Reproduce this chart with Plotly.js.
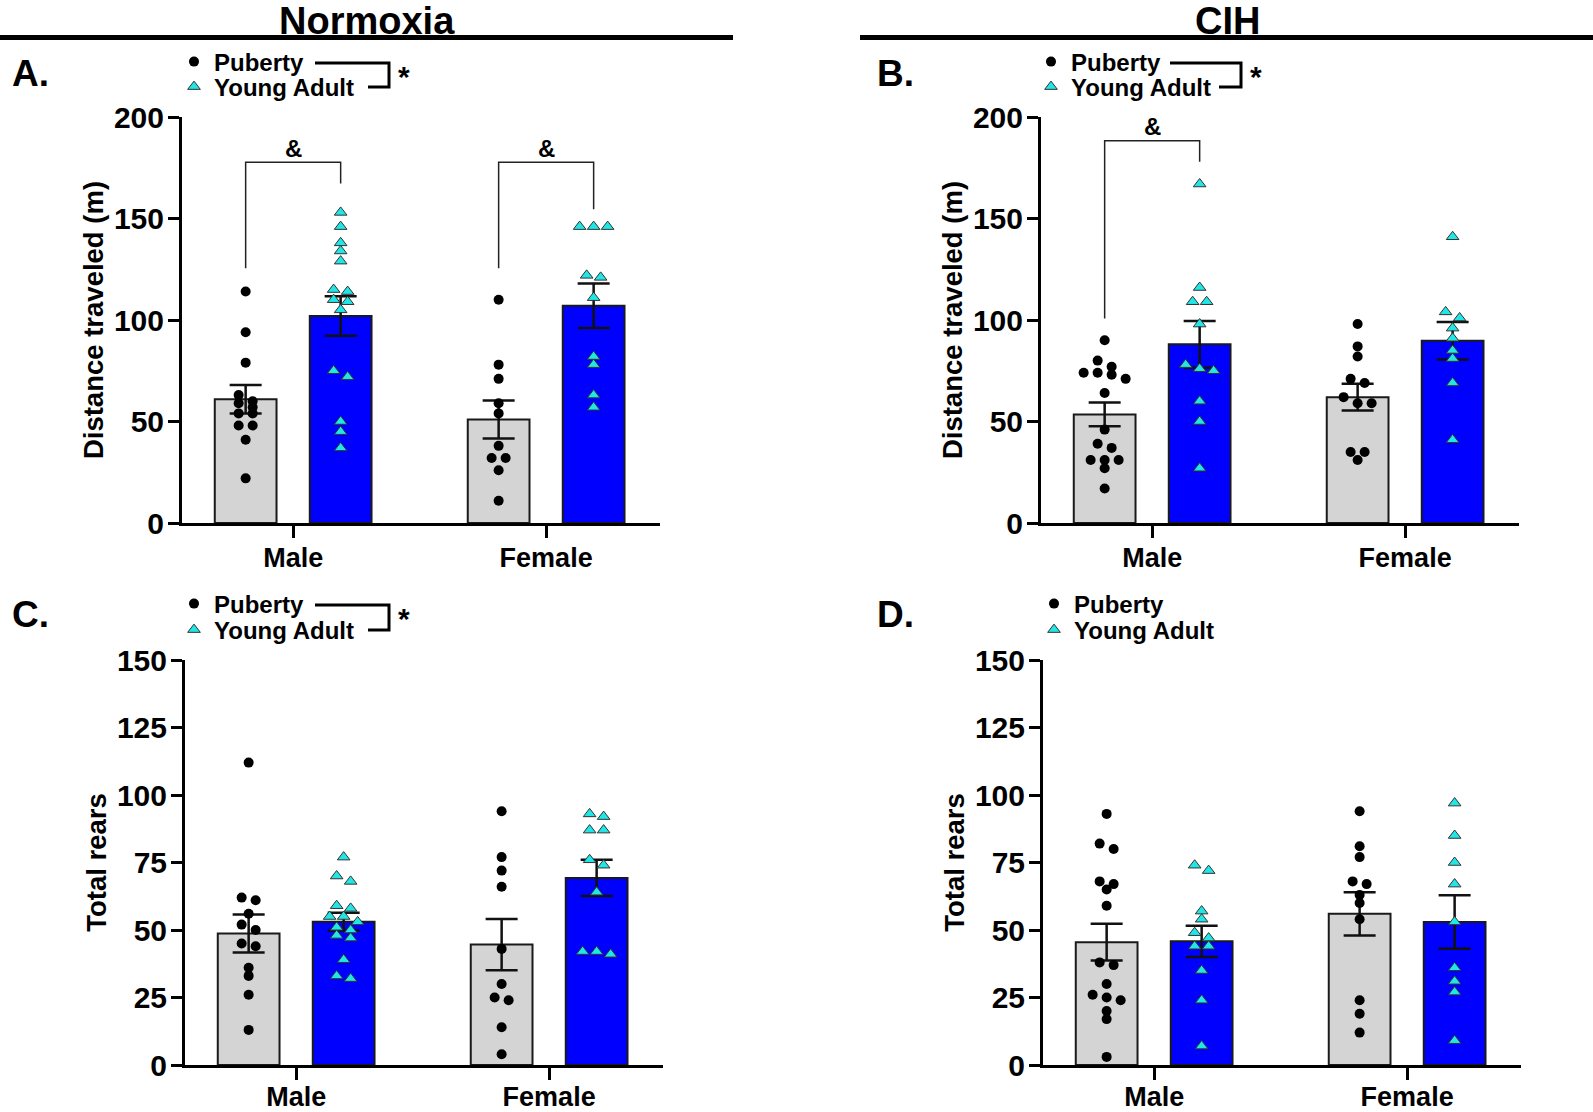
<!DOCTYPE html>
<html>
<head>
<meta charset="utf-8">
<script src="https://cdn.plot.ly/plotly-3.0.1.min.js"></script>
<style>html,body{margin:0;padding:0;background:#fff}#chart{width:1593px;height:1112px}</style>
</head>
<body>
<div id="chart"></div>
<script>
// ---------------- data ----------------
const sexes = ['Male', 'Female'];
const ages = ['Puberty', 'Young Adult'];
const headers = ['Normoxia', 'CIH'];
const panelLetters = ['A.', 'B.', 'C.', 'D.'];
const yTitles = ['Distance traveled (m)', 'Distance traveled (m)', 'Total rears', 'Total rears'];
const distTicks = [0, 50, 100, 150, 200];
const rearTicks = [0, 25, 50, 75, 100, 125, 150];

// Panel A – Normoxia, distance traveled (m)
const A_malePuberty   = [114, 94, 79, 63, 60, 59, 57, 54, 54, 48, 48, 41, 22];
const A_maleYoung     = [153, 146, 138, 134, 129, 115, 114, 110, 109, 105, 75, 72, 50, 45, 37];
const A_femalePuberty = [110, 78, 71, 59, 54, 38, 32, 32, 26, 11];
const A_femaleYoung   = [146, 146, 146, 122, 121, 111, 82, 78, 63, 57];
const A_mean = [61, 102, 51, 107];      // M-Pub, M-YA, F-Pub, F-YA
const A_sem  = [7, 9.7, 9.4, 11];

// Panel B – CIH, distance traveled (m)
const B_malePuberty   = [90, 80, 77, 74, 73, 74, 71, 64, 46, 39, 37, 31, 31, 31, 27, 17];
const B_maleYoung     = [167, 116, 109, 109, 98, 78, 76, 75, 60, 50, 27];
const B_femalePuberty = [98, 87, 82, 71, 69, 62, 59, 59, 35, 35, 31];
const B_femaleYoung   = [141, 104, 101, 96, 91, 85, 81, 69, 41];
const B_mean = [53.5, 88, 62, 89.8];
const B_sem  = [5.8, 11.5, 6.6, 9.2];

// Panel C – Normoxia, total rears
const C_malePuberty   = [112, 61, 62, 56, 52, 50, 45, 44, 36, 33, 26, 13];
const C_maleYoung     = [77, 68, 70, 59, 58, 55, 55, 53, 51, 50, 47, 48, 39, 33, 32];
const C_femalePuberty = [94, 77, 72, 66, 43, 30, 24, 25, 14, 4];
const C_femaleYoung   = [92, 93, 87, 87, 74, 76, 64, 41, 42, 42];
const C_mean = [48.7, 53.1, 44.6, 69.3];
const C_sem  = [7, 3.3, 9.5, 6.7];

// Panel D – CIH, total rears
const D_malePuberty   = [93, 82, 80, 67, 68, 65, 59, 38, 37, 30, 26, 25, 24, 20, 17, 3];
const D_maleYoung     = [74, 72, 57, 54, 49, 44, 47, 44, 35, 24, 7];
const D_femalePuberty = [94, 81, 77, 67, 68, 63, 60, 54, 24, 19, 12];
const D_femaleYoung   = [97, 85, 75, 67, 53, 36, 31, 27, 9];
const D_mean = [45.5, 45.8, 56, 53];
const D_sem  = [6.8, 5.8, 8, 9.9];

// ---------------- layout helpers ----------------
const W = 1593, H = 1112;
const px = x => x / W;
const py = y => 1 - y / H;
const FONT = 'Liberation Sans, Arial, Helvetica, sans-serif';
const PX_PER_X = 95;                       // pixels per x unit
const groupStart = [0, 2.663];             // x of each sex group
const barPos = [groupStart[0], groupStart[0] + 1, groupStart[1], groupStart[1] + 1];
const xRange = [-0.67, 4.36];
const GRAY = '#d4d4d4', BLUE = '#0000ff', CYAN = '#22e6e6';

const panels = [
  {pts: [A_malePuberty, A_maleYoung, A_femalePuberty, A_femaleYoung], mean: A_mean, sem: A_sem,
   x0: 182, top: 117, bottom: 523, yr: [0, 200], ticks: distTicks, legX: 174, legY: [62, 87], xStand: -3},
  {pts: [B_malePuberty, B_maleYoung, B_femalePuberty, B_femaleYoung], mean: B_mean, sem: B_sem,
   x0: 1041, top: 117, bottom: 523, yr: [0, 200], ticks: distTicks, legX: 1031, legY: [62, 87], xStand: -3},
  {pts: [C_malePuberty, C_maleYoung, C_femalePuberty, C_femaleYoung], mean: C_mean, sem: C_sem,
   x0: 185, top: 660, bottom: 1065, yr: [0, 150], ticks: rearTicks, legX: 174, legY: [604, 630], xStand: -6},
  {pts: [D_malePuberty, D_maleYoung, D_femalePuberty, D_femaleYoung], mean: D_mean, sem: D_sem,
   x0: 1043, top: 660, bottom: 1065, yr: [0, 150], ticks: rearTicks, legX: 1034, legY: [604, 630], xStand: -6}
];

// simple Prism-like column scatter: points close in y are spread side by side
function swarm(values, center, pxPerY) {
  const STEP = 14, THRESH = 7.5;
  const order = values.map((v, i) => i).sort((a, b) => values[b] - values[a]);
  const xs = new Array(values.length);
  let i = 0;
  while (i < order.length) {
    const row = [order[i]];
    let j = i + 1;
    while (j < order.length && (values[order[i]] - values[order[j]]) * pxPerY < THRESH) { row.push(order[j]); j++; }
    row.forEach((k, r) => { xs[k] = center + (r - (row.length - 1) / 2) * STEP / PX_PER_X; });
    i = j;
  }
  return xs;
}

const traces = [];
const layout = {
  width: W, height: H,
  margin: {l: 0, r: 0, t: 0, b: 0},
  paper_bgcolor: '#fff', plot_bgcolor: '#fff',
  barmode: 'overlay',
  showlegend: true,
  font: {family: FONT, color: '#000'},
  shapes: [], annotations: []
};

panels.forEach((p, n) => {
  const suf = n === 0 ? '' : String(n + 1);
  const xa = 'x' + suf, ya = 'y' + suf;
  const xWidth = (xRange[1] - xRange[0]) * PX_PER_X;
  const pxPerY = (p.bottom - p.top) / (p.yr[1] - p.yr[0]);

  layout['xaxis' + suf] = {
    domain: [px(p.x0), px(p.x0 + xWidth)], anchor: ya, range: xRange,
    tickvals: [groupStart[0] + 0.5, groupStart[1] + 0.5], ticktext: sexes,
    ticks: 'outside', ticklen: 12, tickwidth: 3, tickcolor: '#000',
    showline: true, linewidth: 3, linecolor: '#000', showgrid: false, zeroline: false,
    ticklabelstandoff: p.xStand,
    tickfont: {size: 27, family: FONT, weight: 'bold', color: '#000'}, fixedrange: true
  };
  layout['yaxis' + suf] = {
    domain: [py(p.bottom), py(p.top)], anchor: xa, range: p.yr,
    tickvals: p.ticks, ticks: 'outside', ticklen: 11, tickwidth: 3, tickcolor: '#000',
    showline: true, linewidth: 3, linecolor: '#000', showgrid: false, zeroline: false,
    ticklabelstandoff: -2,
    tickfont: {size: 30, family: FONT, weight: 'bold', color: '#000'},
    title: {text: yTitles[n], standoff: 3, font: {size: 27.5, family: FONT, weight: 'bold', color: '#000'}},
    fixedrange: true
  };

  // bars: puberty (gray) and young adult (blue)
  [0, 1].forEach(a => {
    const idx = [a, a + 2];
    traces.push({
      type: 'bar', xaxis: xa, yaxis: ya, showlegend: false, hoverinfo: 'skip',
      x: idx.map(k => barPos[k]), y: idx.map(k => p.mean[k]), width: 0.65,
      marker: {color: a === 0 ? GRAY : BLUE, line: {color: '#1a1a1a', width: 2}},
      error_y: {type: 'data', array: idx.map(k => p.sem[k]), visible: true,
                color: '#111', thickness: 2.5, width: 16}
    });
  });

  // individual points, each age group with its own one-item legend
  [0, 1].forEach(a => {
    const xs = [], ys = [];
    [a, a + 2].forEach(k => {
      const sx = swarm(p.pts[k], barPos[k], pxPerY);
      p.pts[k].forEach((v, i) => { xs.push(sx[i]); ys.push(v); });
    });
    const legNum = 2 * n + a + 1;
    const legendId = legNum === 1 ? 'legend' : 'legend' + legNum;
    traces.push({
      type: 'scatter', mode: 'markers', xaxis: xa, yaxis: ya, cliponaxis: false,
      name: ages[a], legend: legendId, x: xs, y: ys,
      marker: a === 0
        ? {symbol: 'circle', size: 10, color: '#000'}
        : {symbol: 'triangle-up', size: 11, color: CYAN, line: {color: '#333', width: 1}}
    });
    layout[legendId] = {
      x: px(p.legX), y: py(p.legY[a]), xanchor: 'left', yanchor: 'middle',
      bgcolor: 'rgba(0,0,0,0)', borderwidth: 0, tracegroupgap: 0, itemwidth: 30,
      font: {size: 24, family: FONT, weight: 'bold', color: '#000'}
    };
  });

  // panel letters
  layout.annotations.push({
    xref: 'paper', yref: 'paper', x: px(n % 2 === 0 ? 10 : 875), y: py(n < 2 ? 73 : 614),
    xanchor: 'left', yanchor: 'middle', showarrow: false, text: panelLetters[n],
    font: {size: 37, family: FONT, weight: 'bold', color: '#000'}
  });
});

// column headers and their rules
[[367, 0, 733], [1227, 860, 1593]].forEach((h, i) => {
  layout.annotations.push({
    xref: 'paper', yref: 'paper', x: px(h[0]), y: py(20.5), xanchor: 'center', yanchor: 'middle',
    showarrow: false, text: headers[i], font: {size: 38, family: FONT, weight: 'bold', color: '#000'}
  });
  layout.shapes.push({type: 'line', xref: 'paper', yref: 'paper',
    x0: px(h[1]), x1: px(h[2]), y0: py(37.5), y1: py(37.5), line: {color: '#000', width: 5}});
});

// legend brackets with "*" (panels A, B, C)
function legendBracket(xl, xb, xr, yTop, yBot, xStar) {
  const path = `M ${px(xl)} ${py(yTop)} L ${px(xr)} ${py(yTop)} L ${px(xr)} ${py(yBot)} L ${px(xb)} ${py(yBot)}`;
  layout.shapes.push({type: 'path', xref: 'paper', yref: 'paper', path, line: {color: '#000', width: 3}});
  layout.annotations.push({xref: 'paper', yref: 'paper', x: px(xStar), y: py((yTop + yBot) / 2 + 1),
    xanchor: 'center', yanchor: 'middle', showarrow: false, text: '*',
    font: {size: 30, family: FONT, weight: 'bold', color: '#000'}});
}
legendBracket(315, 368, 389, 63, 87, 404);
legendBracket(1170, 1219, 1241, 63, 87, 1256);
legendBracket(315, 368, 389, 605, 630, 404);

// significance brackets ("&") drawn in data coordinates
function sigBracket(suf, xl, xr, yLeft, yTop, yRight) {
  layout.shapes.push({type: 'path', xref: 'x' + suf, yref: 'y' + suf,
    path: `M ${xl} ${yLeft} L ${xl} ${yTop} L ${xr} ${yTop} L ${xr} ${yRight}`,
    line: {color: '#222', width: 1.5}});
  layout.annotations.push({xref: 'x' + suf, yref: 'y' + suf, x: (xl + xr) / 2, y: yTop, yshift: 14,
    xanchor: 'center', yanchor: 'middle', showarrow: false, text: '&',
    font: {size: 24, family: FONT, weight: 'bold', color: '#000'}});
}
sigBracket('', barPos[0], barPos[1], 125.5, 177.7, 167.3);
sigBracket('', barPos[2], barPos[3], 125.5, 177.7, 154.5);
sigBracket('2', barPos[0], barPos[1], 100.8, 188.3, 178);

Plotly.newPlot('chart', traces, layout, {staticPlot: true, displayModeBar: false});
</script>
</body>
</html>
